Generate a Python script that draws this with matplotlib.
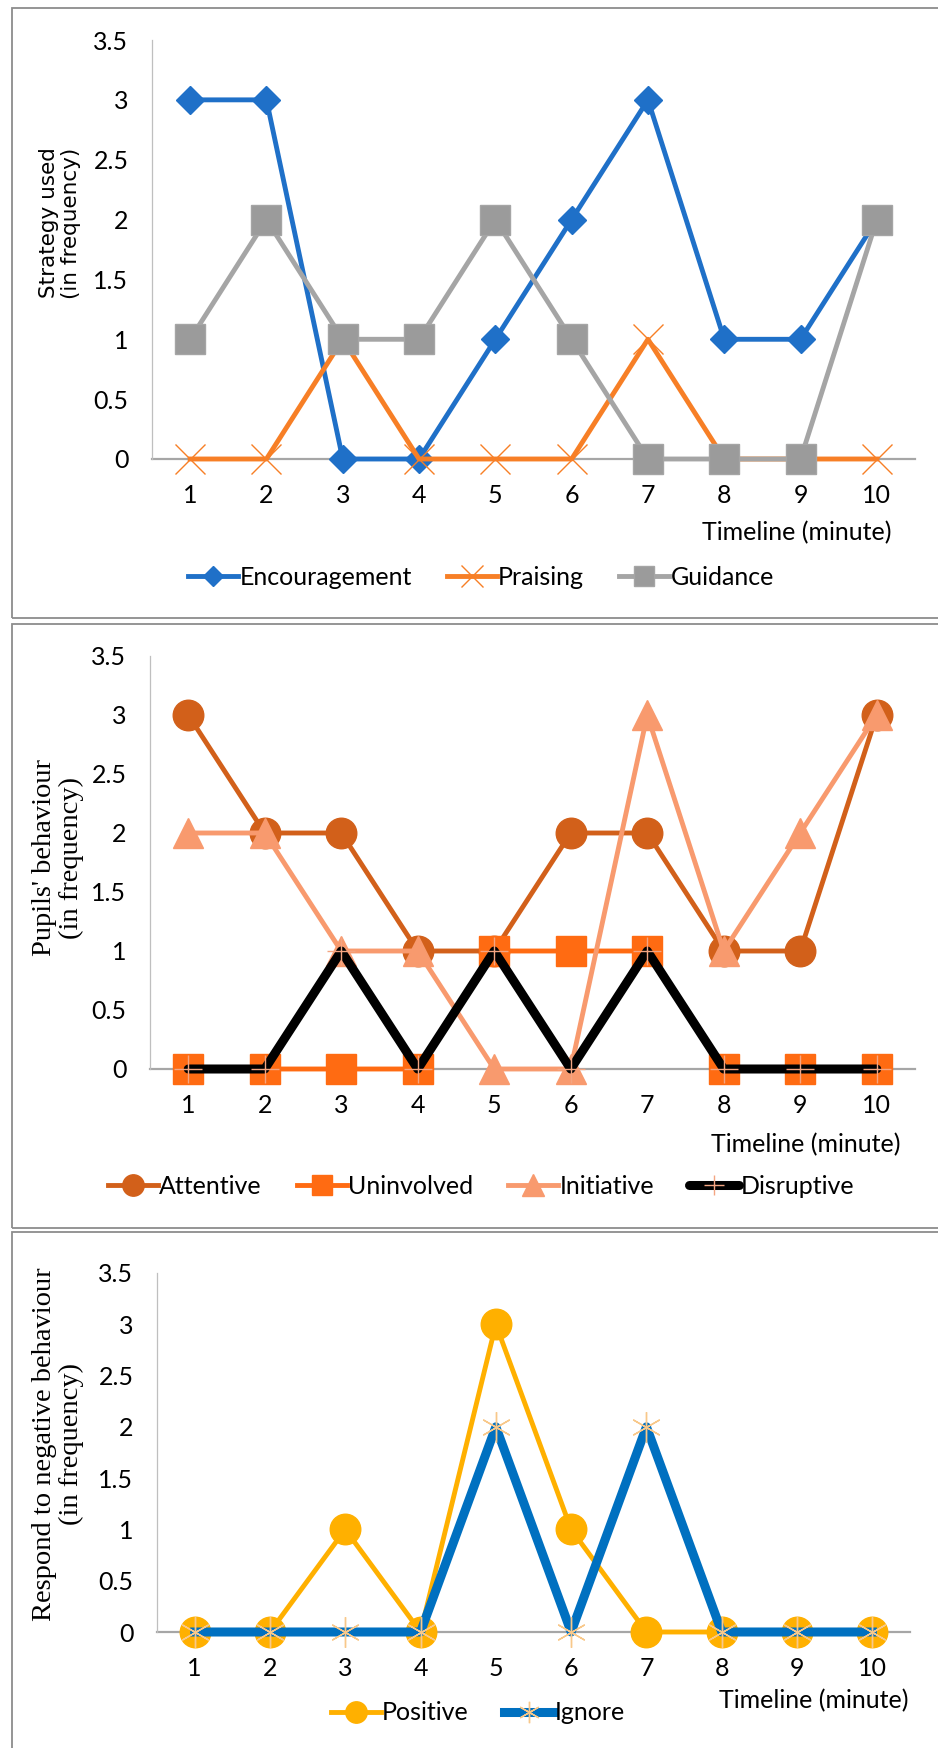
import matplotlib
matplotlib.use("Agg")
import matplotlib.pyplot as plt
from matplotlib.patches import Rectangle

# data
minutes = [1, 2, 3, 4, 5, 6, 7, 8, 9, 10]

encouragement = [3, 3, 0, 0, 1, 2, 3, 1, 1, 2]
praising = [0, 0, 1, 0, 0, 0, 1, 0, 0, 0]
guidance = [1, 2, 1, 1, 2, 1, 0, 0, 0, 2]

attentive = [3, 2, 2, 1, 1, 2, 2, 1, 1, 3]
uninvolved = [0, 0, 0, 0, 1, 1, 1, 0, 0, 0]
initiative = [2, 2, 1, 1, 0, 0, 3, 1, 2, 3]
disruptive = [0, 0, 1, 0, 1, 0, 1, 0, 0, 0]

positive = [0, 0, 1, 0, 3, 1, 0, 0, 0, 0]
ignore = [0, 0, 0, 0, 2, 0, 2, 0, 0, 0]

yticks = [0, 0.5, 1, 1.5, 2, 2.5, 3, 3.5]
ytick_labels = ["0", "0.5", "1", "1.5", "2", "2.5", "3", "3.5"]

W, H = 938, 1748
plt.rcParams['font.family'] = ['Lato', 'DejaVu Sans']
fig = plt.figure(figsize=(W / 100, H / 100), dpi=100)

TICK_FS = 18


def px_axes(x0, y0, x1, y1):
    # pixel box (top-left origin) -> figure fraction axes
    return fig.add_axes([x0 / W, 1 - y1 / H, (x1 - x0) / W, (y1 - y0) / H])


def style_axes(ax):
    ax.set_xlim(0.5, 10.5)
    ax.set_ylim(0, 3.5)
    ax.set_xticks(minutes)
    ax.set_xticklabels([str(m) for m in minutes])
    ax.set_yticks(yticks)
    ax.set_yticklabels(ytick_labels)
    for s in ["top", "right"]:
        ax.spines[s].set_visible(False)
    ax.spines["left"].set_color("#BFBFBF")
    ax.spines["left"].set_linewidth(0.9)
    ax.spines["bottom"].set_color("#A6A6A6")
    ax.spines["bottom"].set_linewidth(1.6)
    ax.spines["bottom"].set_zorder(0.5)
    ax.tick_params(length=0, labelsize=TICK_FS)
    ax.tick_params(axis="y", pad=17)
    ax.tick_params(axis="x", pad=18)
    ax.set_facecolor("none")
    for t in ax.get_xticklabels() + ax.get_yticklabels():
        t.set_clip_on(False)


def add_legend(ax, x, y, ncol):
    fig.legend(handles=ax.get_lines(), loc="center",
               bbox_to_anchor=(x / W, 1 - y / H), ncol=ncol, frameon=False,
               fontsize=TICK_FS, markerscale=0.7, handlelength=2.0,
               handletextpad=0.05, columnspacing=1.4)


# panel borders
for (y0, y1) in [(8, 618), (624, 1228), (1232, 1760)]:
    fig.patches.append(Rectangle((12 / W, 1 - y1 / H), 1.0, (y1 - y0) / H,
                                 transform=fig.transFigure, fill=False,
                                 edgecolor="#8C8C8C", linewidth=1.3))

# ---- panel 1 ----
ax1 = px_axes(152, 40, 915, 459)
style_axes(ax1)
ax1.plot(minutes, encouragement, color="#1F70C8", lw=3.5, marker="D", ms=14,
         label="Encouragement", clip_on=False)
ax1.plot(minutes, praising, color="#F77F26", lw=3.5, marker="x", ms=22, mew=1,
         label="Praising", clip_on=False)
ax1.plot(minutes, guidance, color="#A5A5A5", lw=3.5, marker="s", ms=21,
         mfc="#9B9B9B", mec="#A5A5A5", label="Guidance", clip_on=False)
fig.text(60 / W, 1 - 223 / H, "Strategy used\n(in frequency)", rotation=90,
         ha="center", va="center", fontsize=15.5, family="DejaVu Sans",
         linespacing=1.15)
fig.text(891 / W, 1 - 533 / H, "Timeline (minute)", ha="right", va="center",
         fontsize=TICK_FS)
add_legend(ax1, 481, 577, 3)

# ---- panel 2 ----
ax2 = px_axes(150, 656, 915, 1069)
style_axes(ax2)
ax2.plot(minutes, attentive, color="#D2601A", lw=3.5, marker="o", ms=22,
         label="Attentive", clip_on=False)
ax2.plot(minutes, uninvolved, color="#FF6B12", lw=3.5, marker="s", ms=21,
         label="Uninvolved", clip_on=False)
ax2.plot(minutes, initiative, color="#F89A6E", lw=3.5, marker="^", ms=22,
         label="Initiative", clip_on=False)
ax2.plot(minutes, disruptive, color="black", lw=6.5, marker="+", ms=20, mew=1,
         mec="#F4A582", label="Disruptive", clip_on=False,
         solid_capstyle="round")
fig.text(58 / W, 1 - 858 / H, "Pupils' behaviour\n(in frequency)", rotation=90,
         ha="center", va="center", fontsize=20.5, family="Liberation Serif",
         linespacing=1.1)
fig.text(900 / W, 1 - 1145 / H, "Timeline (minute)", ha="right", va="center",
         fontsize=TICK_FS)
add_legend(ax2, 481, 1186, 4)

# ---- panel 3 ----
ax3 = px_axes(157, 1273, 910, 1632)
style_axes(ax3)
ax3.plot(minutes, positive, color="#FFB000", lw=3.5, marker="o", ms=22,
         label="Positive", clip_on=False)
ax3.plot(minutes, ignore, color="#0070C0", lw=6.5, marker=(6, 2, 0), ms=22,
         mew=1, mec="#F8C88A", label="Ignore", clip_on=False)
fig.text(58 / W, 1 - 1444 / H, "Respond to negative behaviour\n(in frequency)",
         rotation=90, ha="center", va="center", fontsize=20.5,
         family="Liberation Serif", linespacing=1.1)
fig.text(908 / W, 1 - 1701 / H, "Timeline (minute)", ha="right", va="center",
         fontsize=TICK_FS)
add_legend(ax3, 478, 1713, 2)

fig.savefig("out.png", dpi=100, facecolor="white")
